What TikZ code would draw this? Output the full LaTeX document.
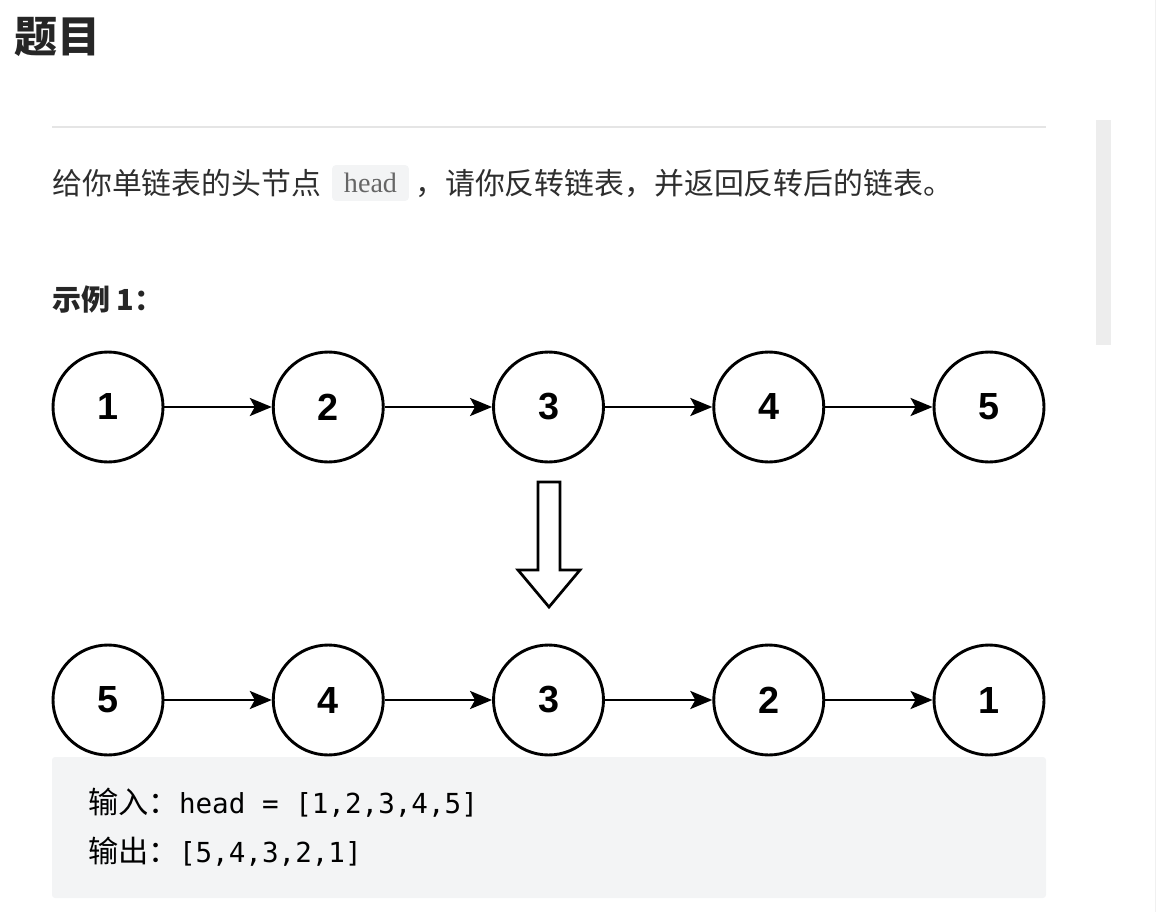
\documentclass[tikz,border=0pt]{standalone}
\usepackage{fontspec}
\setmainfont{Liberation Sans}
\newfontfamily\cjk{Noto Sans CJK SC}
\newfontfamily\codefont{DejaVu Sans Mono}
\newfontfamily\inlinefont{Liberation Serif}
\usetikzlibrary{arrows.meta}

\definecolor{titlegray}{HTML}{262626}
\definecolor{txtgray}{HTML}{2E2E2E}
\definecolor{rulegray}{HTML}{E5E5E5}
\definecolor{codebg}{HTML}{F3F4F5}
\definecolor{bargray}{HTML}{EDEDED}

\begin{document}
\begin{tikzpicture}[x=0.02cm,y=-0.02cm,
    nd/.style={circle,draw,line width=1.65pt,minimum size=2.2cm,inner sep=0pt,
      font=\fontsize{21.5}{21.5}\selectfont\bfseries},
    lnk/.style={line width=1.55pt,-{Stealth[length=0.44cm,width=0.36cm,inset=0.1cm]}},
    txt/.style={anchor=west,inner sep=0pt,text=txtgray}]
    \useasboundingbox (0,0) rectangle (1156,912);

    % page furniture
    \node[txt,text=titlegray,font=\fontsize{24.5}{24.5}\selectfont] (title) at (14,37) {\cjk\bfseries 题目};
    \draw[rulegray,line width=0.8pt] (52,127) -- (1046,127);
    \fill[bargray] (1096,120) rectangle (1111,345);
    \draw[black!6,line width=0.5pt] (1155,0) -- (1155,912);

    % question text
    \node[txt,font=\fontsize{17}{17}\selectfont] (q1) at (52,183) {\cjk 给你单链表的头节点};
    \node[fill=codebg,rounded corners=0.08cm,minimum width=1.54cm,minimum height=0.72cm,inner sep=0pt,
      text=black!60,font=\fontsize{16}{16}\selectfont] (hd) at (370.5,183) {\inlinefont head};
    \node[txt,font=\fontsize{17}{17}\selectfont] (q2) at (415,183) {\cjk ，请你反转链表，并返回反转后的链表。};

    \node[txt,text=titlegray,font=\fontsize{16.5}{16.5}\selectfont] (ex) at (52,300) {\cjk\bfseries 示例 1：};

    % lists
    \foreach \v [count=\i] in {1,2,3,4,5}
      \node[nd] (t\i) at ({108+220.25*(\i-1)},407) {\v};
    \foreach \v [count=\i] in {5,4,3,2,1}
      \node[nd] (b\i) at ({108+220.25*(\i-1)},700) {\v};
    \foreach \i/\j in {1/2,2/3,3/4,4/5} {
      \draw[lnk] (t\i) -- (t\j);
      \draw[lnk] (b\i) -- (b\j);
    }

    % hollow arrow
    \draw[line width=1.55pt,line join=miter] (538,482) -- (560,482) -- (560,570) -- (580,570)
      -- (549,607) -- (518,570) -- (538,570) -- cycle;

    % example box
    \fill[codebg,rounded corners=0.06cm] (52,757) rectangle (1046,898);
    \node[txt,text=black,font=\fontsize{17.2}{17.2}\selectfont] (in) at (88,803)
      {\cjk 输入：\codefont\fontsize{15.7}{15.7}\selectfont head = [1,2,3,4,5]};
    \node[txt,text=black,font=\fontsize{17.2}{17.2}\selectfont] (out) at (88,852)
      {\cjk 输出：\codefont\fontsize{15.7}{15.7}\selectfont [5,4,3,2,1]};
\end{tikzpicture}
\end{document}
